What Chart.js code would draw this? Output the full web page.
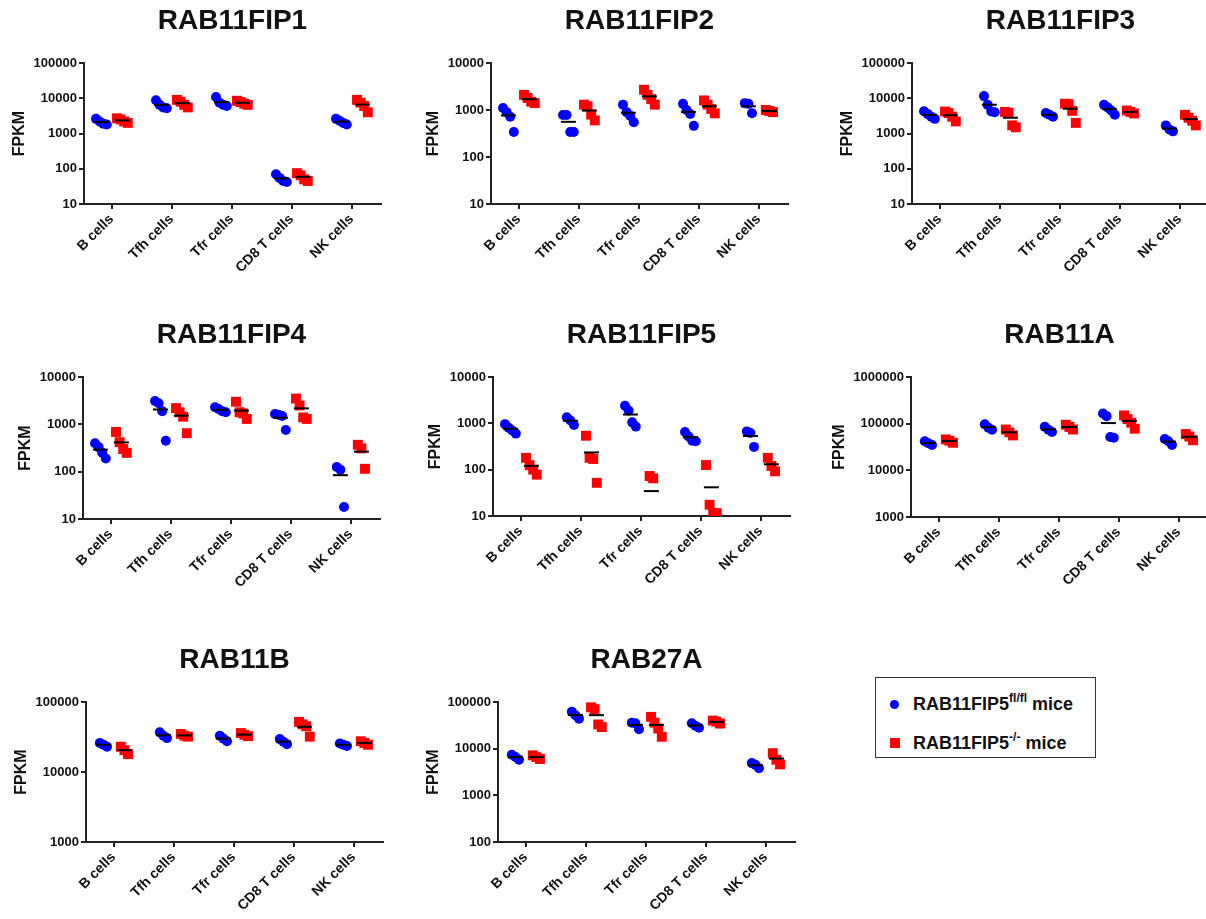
<!DOCTYPE html>
<html>
<head>
<meta charset="utf-8">
<script src="https://cdn.jsdelivr.net/npm/chart.js@4.4.1/dist/chart.umd.min.js"></script>
<style>
  body { margin: 0; background: #fff; width: 1206px; height: 919px; overflow: hidden; position: relative;
         font-family: "Liberation Sans", Arial, sans-serif; color: #111; }
  .panel { position: absolute; }
  #legend { position: absolute; left: 875px; top: 677px; width: 219px; height: 79px; border: 1.5px solid #333; }
  #legend .row { position: absolute; left: 0; height: 20px; line-height: 20px; font-weight: bold; font-size: 18px; white-space: nowrap; }
  #legend .row .txt { position: absolute; left: 37px; top: 0; }
  #legend sup { font-size: 12px; vertical-align: baseline; position: relative; top: -8px; }
  #legend .dot { position: absolute; left: 14px; top: 6px; width: 9px; height: 9px; border-radius: 50%; background: #0000ff; }
  #legend .sq { position: absolute; left: 14px; top: 5px; width: 10px; height: 10px; background: #ff0000; }
</style>
</head>
<body>

<div id="legend">
  <div class="row" style="top:16px"><span class="dot"></span><span class="txt">RAB11FIP5<sup>fl/fl</sup> mice</span></div>
  <div class="row" style="top:55px"><span class="sq"></span><span class="txt">RAB11FIP5<sup>-/-</sup> mice</span></div>
</div>

<script>
const cells = ["B cells", "Tfh cells", "Tfr cells", "CD8 T cells", "NK cells"];

// values per cell type: RAB11FIP5 fl/fl (blue) and RAB11FIP5 -/- (red)
const fip1Fl = [[2600, 2200, 1900, 1800], [8800, 6500, 5500, 5200], [10800, 7500, 6500, 6000], [70, 55, 45, 42], [2600, 2300, 2000, 1800]];
const fip1Ko = [[2700, 2500, 2200, 2000], [9000, 8000, 6500, 5500], [8500, 7800, 7000, 6500], [75, 65, 50, 45], [9000, 7500, 6000, 4000]];

const fip2Fl = [[1100, 900, 720, 340], [780, 780, 340, 340], [1300, 900, 750, 550], [1350, 1000, 820, 460], [1400, 1350, 850]];
const fip2Ko = [[2100, 1800, 1500, 1400], [1300, 1200, 800, 600], [2700, 2100, 1700, 1300], [1600, 1300, 1050, 850], [1000, 950, 900]];

const fip3Fl = [[4300, 3600, 3000, 2600], [11500, 6500, 4200, 4000], [3800, 3400, 3000], [6500, 5500, 4500, 3400], [1700, 1300, 1150]];
const fip3Ko = [[4200, 3800, 3000, 2200], [4100, 3900, 1700, 1500], [7000, 6800, 4400, 2000], [4500, 4100, 3700], [3400, 2800, 2300, 1700]];

const fip4Fl = [[400, 330, 250, 190], [3100, 2800, 1900, 450], [2300, 2100, 1900, 1800], [1650, 1600, 1500, 760], [125, 110, 18]];
const fip4Ko = [[690, 420, 300, 250], [2200, 1800, 1450, 650], [3000, 1800, 1700, 1300], [3500, 2500, 1400, 1300], [370, 310, 115]];

const fip5Fl = [[960, 800, 700, 600], [1350, 1150, 920], [2400, 1900, 1050, 850], [650, 520, 420, 410], [670, 620, 310]];
const fip5Ko = [[180, 125, 100, 78], [540, 180, 170, 52], [73, 65, 0, 0], [126, 17.5, 11.5, 11.5], [180, 120, 92]];

const rab11aFl = [[42000, 38000, 35000], [97000, 82000, 74000], [86000, 74000, 66000], [165000, 145000, 52000, 50000], [47000, 42000, 35000]];
const rab11aKo = [[46000, 43000, 39000], [75000, 65000, 56000], [95000, 85000, 75000], [150000, 125000, 105000, 78000], [60000, 53000, 44000]];

const rab11bFl = [[26000, 24500, 23000], [37000, 33000, 30500], [33000, 30000, 27500], [29500, 27000, 25000], [25500, 24500, 23500]];
const rab11bKo = [[23000, 20500, 18000], [35000, 33000, 32000], [36000, 34000, 32500], [52000, 48000, 45000, 32000], [27500, 26000, 24500]];

const rab27aFl = [[7400, 6600, 5800], [62000, 52000, 44000], [36000, 35000, 26000], [35000, 31000, 28000], [4900, 4500, 3800]];
const rab27aKo = [[7200, 6600, 6000], [77000, 70000, 33000, 29000], [48000, 36000, 27000, 18000], [40000, 38000, 34500], [8000, 5800, 4600]];

const panels = [
  { title: "RAB11FIP1", fl: fip1Fl, ko: fip1Ko, yMin: 10, yMax: 100000, axisX: 84, top: 63, bottom: 204 },
  { title: "RAB11FIP2", fl: fip2Fl, ko: fip2Ko, yMin: 10, yMax: 10000, axisX: 491, top: 63, bottom: 204 },
  { title: "RAB11FIP3", fl: fip3Fl, ko: fip3Ko, yMin: 10, yMax: 100000, axisX: 912, top: 63, bottom: 204 },
  { title: "RAB11FIP4", fl: fip4Fl, ko: fip4Ko, yMin: 10, yMax: 10000, axisX: 83, top: 377, bottom: 519 },
  { title: "RAB11FIP5", fl: fip5Fl, ko: fip5Ko, yMin: 10, yMax: 10000, axisX: 493, top: 377, bottom: 516 },
  { title: "RAB11A", fl: rab11aFl, ko: rab11aKo, yMin: 1000, yMax: 1000000, axisX: 911, top: 377, bottom: 517 },
  { title: "RAB11B", fl: rab11bFl, ko: rab11bKo, yMin: 1000, yMax: 100000, axisX: 86, top: 702, bottom: 842 },
  { title: "RAB27A", fl: rab27aFl, ko: rab27aKo, yMin: 100, yMax: 100000, axisX: 498, top: 702, bottom: 842 }
];

Chart.defaults.font.family = "'Liberation Sans', Arial, sans-serif";
Chart.defaults.color = "#111";

const BLUE = "#0000ff";
const RED = "#ff0000";
const AXIS = "#222";
const Y_W = 84, PLOT_TOP = 63, X_H = 80, PAD_R = 12;
const TITLE_SIZE = 28;

function points(groups, shift) {
  const out = [];
  groups.forEach((vals, i) => {
    const v = vals.filter(d => d > 0).sort((a, b) => b - a);
    v.forEach((y, k) => out.push({ x: i + shift + (k - (v.length - 1) / 2) * 0.06, y }));
  });
  return out;
}

function meanLines(groups, shift) {
  return groups.map((vals, i) => {
    const m = vals.reduce((a, b) => a + b, 0) / vals.length;
    return {
      type: "line",
      data: [{ x: i + shift - 0.125, y: m }, { x: i + shift + 0.125, y: m }],
      borderColor: "#000",
      borderWidth: 2,
      pointRadius: 0,
      order: 0
    };
  });
}

function makePanel(p) {
  const w = Y_W + 297 + PAD_R;
  const h = PLOT_TOP + (p.bottom - p.top) + X_H;
  const wrap = document.createElement("div");
  wrap.className = "panel";
  wrap.style.left = (p.axisX - Y_W) + "px";
  wrap.style.top = (p.top - PLOT_TOP) + "px";
  const canvas = document.createElement("canvas");
  canvas.width = w;
  canvas.height = h;
  wrap.appendChild(canvas);
  document.body.appendChild(wrap);

  const digits = String(p.yMax).length;
  const titlePad = 74.4 - (7.23 * digits + 21);
  const titleLine = TITLE_SIZE * 1.2;
  const titleTop = 21.7 - titleLine / 2;

  new Chart(canvas, {
    type: "scatter",
    data: {
      datasets: [
        { data: points(p.fl, -0.17), pointStyle: "circle", pointRadius: 5, backgroundColor: BLUE, borderWidth: 0, order: 2 },
        { data: points(p.ko, 0.18), pointStyle: "rect", pointRadius: 7, backgroundColor: RED, borderWidth: 0, order: 2 },
        ...meanLines(p.fl, -0.17),
        ...meanLines(p.ko, 0.18)
      ]
    },
    options: {
      responsive: false,
      animation: false,
      events: [],
      layout: { padding: { left: 0, right: PAD_R, top: 0, bottom: 0 } },
      plugins: {
        legend: { display: false },
        tooltip: { enabled: false },
        title: {
          display: true,
          text: p.title,
          fullSize: false,
          color: "#111",
          font: { size: TITLE_SIZE, weight: "bold" },
          padding: { top: titleTop, bottom: PLOT_TOP - titleTop - titleLine }
        }
      },
      scales: {
        x: {
          type: "linear",
          min: -0.46,
          max: 4.49,
          afterBuildTicks: s => { s.ticks = cells.map((c, i) => ({ value: i })); },
          afterFit: s => { s.height = X_H; },
          ticks: {
            callback: v => cells[v],
            minRotation: 45,
            maxRotation: 45,
            autoSkip: false,
            padding: 2,
            color: "#111",
            font: { size: 14, weight: "bold" }
          },
          grid: { drawOnChartArea: false, tickLength: 5, lineWidth: 2, color: AXIS },
          border: { color: AXIS, width: 2 }
        },
        y: {
          type: "logarithmic",
          min: p.yMin,
          max: p.yMax,
          afterBuildTicks: s => {
            const t = [];
            for (let v = p.yMin; v <= p.yMax; v *= 10) t.push({ value: v });
            s.ticks = t;
          },
          afterFit: s => { s.width = Y_W; },
          ticks: {
            callback: v => String(Math.round(v)),
            padding: 2,
            color: "#111",
            font: { size: 13, weight: "bold" }
          },
          grid: { drawOnChartArea: false, tickLength: 5, lineWidth: 2, color: AXIS },
          border: { color: AXIS, width: 2 },
          title: {
            display: true,
            text: "FPKM",
            color: "#111",
            font: { size: 16, weight: "bold" },
            padding: { top: titlePad, bottom: 0 }
          }
        }
      }
    }
  });
}

panels.forEach(makePanel);
</script>
</body>
</html>
